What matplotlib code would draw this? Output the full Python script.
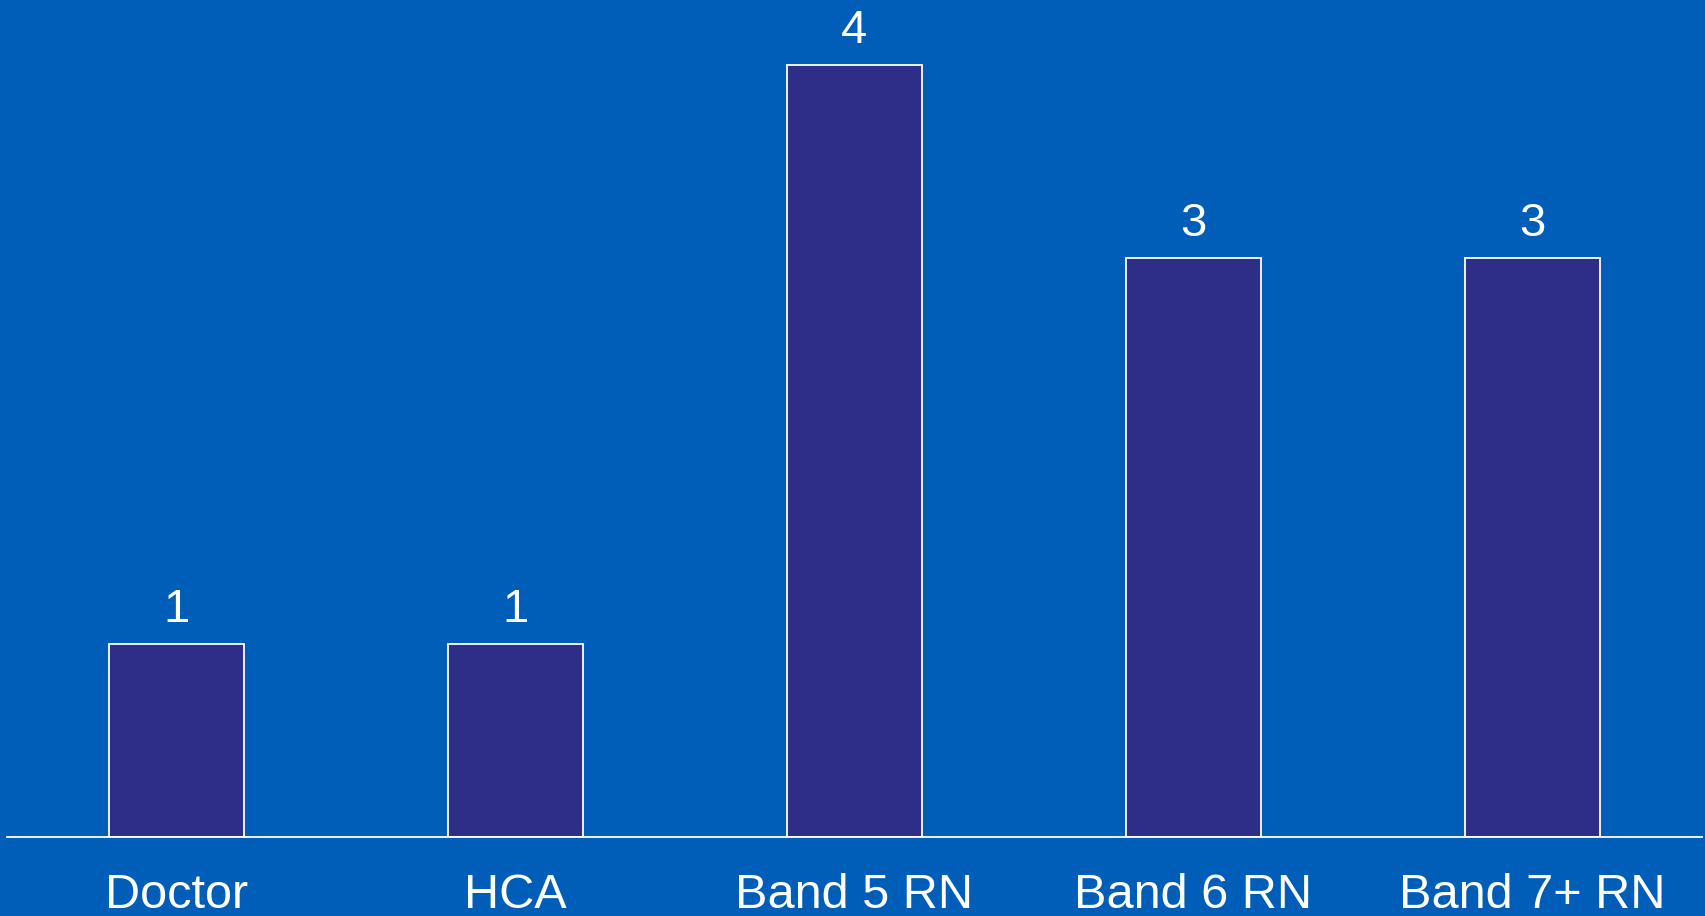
import matplotlib
matplotlib.use("Agg")
import matplotlib.pyplot as plt

categories = ["Doctor", "HCA", "Band 5 RN", "Band 6 RN", "Band 7+ RN"]
counts = [1, 1, 4, 3, 3]

BG = "#005EB8"
BAR = "#2E2D88"

plt.rcParams["font.family"] = ["Liberation Sans", "DejaVu Sans"]

W, H, DPI = 1705, 916, 100
fig = plt.figure(figsize=(W / DPI, H / DPI), dpi=DPI, facecolor=BG)

base_px = 79
unit_px = 193
ax = fig.add_axes([7 / W, base_px / H, 1695 / W, (H - base_px) / H])
ax.set_facecolor(BG)

x = list(range(len(categories)))
bars = ax.bar(x, counts, width=0.4, color=BAR, edgecolor="white", linewidth=1.3, zorder=2)

ax.set_xlim(-0.5, 4.5)
ax.set_ylim(0, (H - base_px) / unit_px)

for spine in ["top", "right", "left"]:
    ax.spines[spine].set_visible(False)
ax.spines["bottom"].set_color("white")
ax.spines["bottom"].set_linewidth(1.3)
ax.spines["bottom"].set_zorder(3)

ax.set_yticks([])
ax.set_xticks(x)
ax.set_xticklabels(categories, fontsize=35, color="white")
ax.tick_params(axis="x", length=0, pad=26)

for rect, v in zip(bars, counts):
    ax.annotate(str(v), xy=(rect.get_x() + rect.get_width() / 2, v),
                xytext=(0, 16), textcoords="offset points",
                ha="center", va="baseline", fontsize=34, color="white")

fig.savefig("out.png", dpi=DPI, facecolor=BG)
